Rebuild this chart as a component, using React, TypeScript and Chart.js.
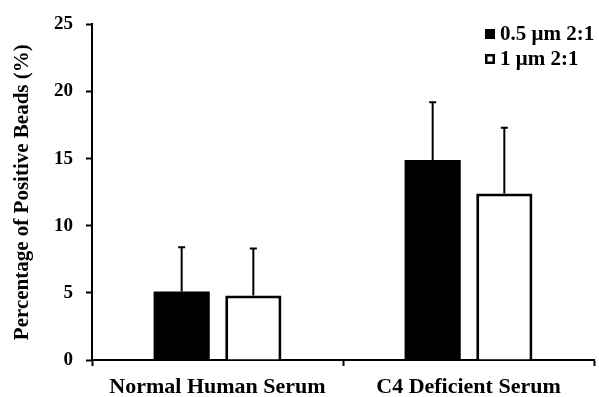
import React, { useEffect, useRef } from "react";
import { Chart, registerables } from "chart.js";

Chart.register(...registerables);

const categories = ["Normal Human Serum", "C4 Deficient Serum"];
const seriesLabels = ["0.5 μm 2:1", "1 μm 2:1"];
const smallBeads = [5.1, 14.9];
const largeBeads = [4.8, 12.4];
const smallBeadsErr = [3.3, 4.3];
const largeBeadsErr = [3.5, 4.9];
const yTicks = [0, 5, 10, 15, 20, 25];

const FONT = "'Liberation Serif', 'Times New Roman', serif";

const errorBars = {
  id: "errorBars",
  afterDatasetsDraw(chart: any) {
    const ctx = chart.ctx;
    const yScale = chart.scales.y;
    chart.data.datasets.forEach((ds: any, di: number) => {
      const meta = chart.getDatasetMeta(di);
      meta.data.forEach((bar: any, i: number) => {
        const err = ds.errors[i];
        const top = yScale.getPixelForValue(ds.data[i] + err);
        ctx.save();
        ctx.strokeStyle = "#000";
        ctx.lineWidth = 2;
        ctx.beginPath();
        ctx.moveTo(bar.x, bar.y);
        ctx.lineTo(bar.x, top);
        ctx.moveTo(bar.x - 3.5, top);
        ctx.lineTo(bar.x + 3.5, top);
        ctx.stroke();
        ctx.restore();
      });
    });
  },
};

const boxLegend = {
  id: "boxLegend",
  afterDraw(chart: any) {
    const ctx = chart.ctx;
    const x0 = 485;
    const rows = [34, 59];
    ctx.save();
    chart.data.datasets.forEach((ds: any, i: number) => {
      const cy = rows[i];
      if (ds.backgroundColor === "#000") {
        ctx.fillStyle = "#000";
        ctx.fillRect(x0, cy - 5, 10, 10);
      } else {
        ctx.fillStyle = "#fff";
        ctx.fillRect(x0, cy - 5, 10, 10);
        ctx.strokeStyle = "#000";
        ctx.lineWidth = 2.5;
        ctx.strokeRect(x0 + 1.25, cy - 3.75, 7.5, 7.5);
      }
      ctx.fillStyle = "#000";
      ctx.font = `bold 21px ${FONT}`;
      ctx.textAlign = "left";
      ctx.textBaseline = "middle";
      ctx.fillText(ds.label, x0 + 15, cy + 1);
    });
    ctx.restore();
  },
};

export default function App() {
  const ref = useRef<HTMLCanvasElement>(null);

  useEffect(() => {
    if (!ref.current) return;
    const chart = new Chart(ref.current, {
      type: "bar",
      data: {
        labels: categories,
        datasets: [
          {
            label: seriesLabels[0],
            data: smallBeads,
            errors: smallBeadsErr,
            backgroundColor: "#000",
            borderColor: "#000",
            borderWidth: 0,
            categoryPercentage: 0.571,
            barPercentage: 0.784,
          } as any,
          {
            label: seriesLabels[1],
            data: largeBeads,
            errors: largeBeadsErr,
            backgroundColor: "#fff",
            borderColor: "#000",
            borderWidth: 3,
            borderSkipped: "start",
            categoryPercentage: 0.571,
            barPercentage: 0.784,
          } as any,
        ],
      },
      options: {
        responsive: false,
        animation: false,
        layout: { padding: { top: 22, right: 5, left: 0, bottom: 0 } },
        plugins: {
          legend: { display: false },
          tooltip: { enabled: false },
        },
        scales: {
          x: {
            afterFit: (s: any) => {
              s.height = 37;
            },
            border: { display: true, color: "#000", width: 2 },
            grid: {
              display: true,
              drawOnChartArea: false,
              drawTicks: true,
              tickLength: 6,
              tickWidth: 2,
              tickColor: "#000",
              offset: true,
            },
            ticks: {
              color: "#000",
              padding: 8,
              font: { family: FONT, size: 22, weight: "bold" },
            },
          },
          y: {
            min: 0,
            max: 25,
            afterFit: (s: any) => {
              s.width = 92;
            },
            afterBuildTicks: (s: any) => {
              s.ticks = yTicks.map((v) => ({ value: v }));
            },
            border: { display: true, color: "#000", width: 2 },
            grid: {
              display: true,
              drawOnChartArea: false,
              drawTicks: true,
              tickLength: 6,
              tickWidth: 2,
              tickColor: "#000",
            },
            ticks: {
              color: "#000",
              padding: 13,
              font: { family: FONT, size: 19, weight: "bold" },
            },
            title: {
              display: true,
              text: "Percentage of Positive Beads (%)",
              color: "#000",
              padding: { top: 10, bottom: 0 },
              font: { family: FONT, size: 21, weight: "bold" },
            },
          },
        },
      },
      plugins: [errorBars, boxLegend],
    });
    return () => chart.destroy();
  }, []);

  return (
    <div style={{ position: "absolute", left: 0, top: 0, width: 599, height: 397, background: "#fff" }}>
      <canvas ref={ref} width={599} height={397} />
    </div>
  );
}
